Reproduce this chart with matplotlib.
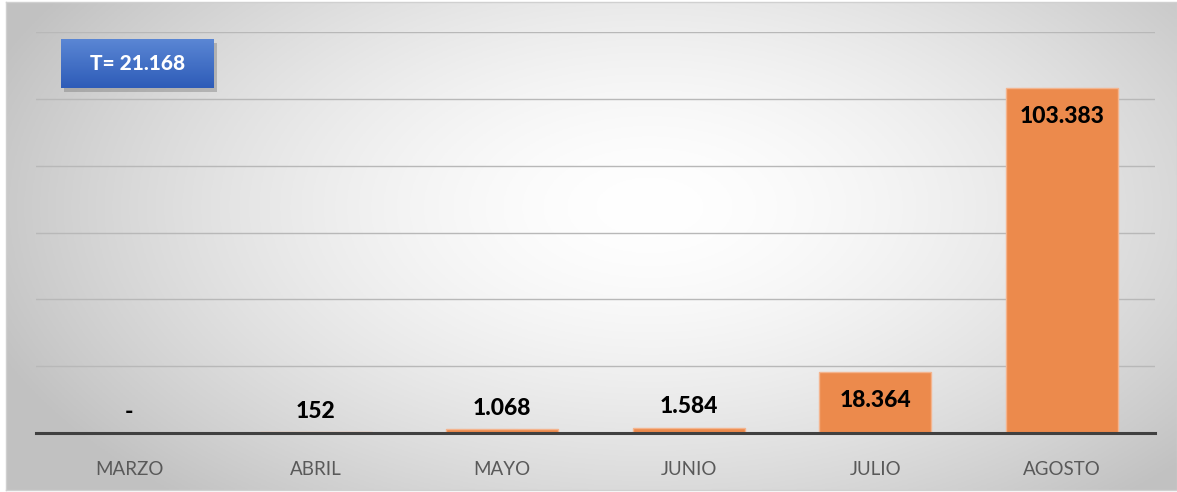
import numpy as np
import matplotlib
matplotlib.use('Agg')
import matplotlib.pyplot as plt
from matplotlib.patches import Rectangle

# --- DATA ---
meses = ['MARZO', 'ABRIL', 'MAYO', 'JUNIO', 'JULIO', 'AGOSTO']
valores = [0, 152, 1068, 1584, 18364, 103383]
total_txt = 'T= 21.168'

plt.rcParams['font.family'] = ['Lato', 'DejaVu Sans']

W, H = 1177, 492
fig = plt.figure(figsize=(W / 100, H / 100), dpi=100)
fig.patch.set_facecolor('white')

# fondo con degradado radial (blanco en el centro, gris en los bordes)
bg = fig.add_axes([6 / W, 2 / H, 1171 / W, 488 / H], zorder=0)
gx, gy = np.meshgrid(np.linspace(0, 1, 400), np.linspace(0, 1, 200))
d = np.sqrt(((gx - 0.55) / 0.6) ** 2 + ((gy - 0.42) / 0.8) ** 2)
shade = 1.0 - 0.24 * np.clip(d, 0, 1) ** 1.6
bg.imshow(np.dstack([shade] * 3), aspect='auto', extent=[0, 1, 0, 1], origin='upper')
bg.set_xlim(0, 1)
bg.set_ylim(0, 1)
bg.set_xticks([])
bg.set_yticks([])
for s in bg.spines.values():
    s.set_color('#d0d0d0')
    s.set_linewidth(1)

# grafico de barras
ax = fig.add_axes([36 / W, 1 - 433 / H, 1119 / W, 401 / H], zorder=1)
ax.patch.set_alpha(0)
x = np.arange(len(meses))
ax.bar(x, valores, width=0.6, color='#EC8A4C', edgecolor='#F4B48E', linewidth=1, zorder=3)
ax.set_xlim(-0.5, len(meses) - 0.5)
ax.set_ylim(0, 120000)
ax.set_yticks(np.arange(0, 120001, 20000))
ax.yaxis.grid(True, color='#b8b8b8', linewidth=1)
ax.set_axisbelow(True)
ax.tick_params(axis='y', left=False, labelleft=False)
ax.tick_params(axis='x', bottom=False, pad=17, labelsize=13.5, labelcolor='#595959')
ax.set_xticks(x)
ax.set_xticklabels(meses)
for s in ['top', 'right', 'left']:
    ax.spines[s].set_visible(False)
ax.spines['bottom'].set_color('#404040')
ax.spines['bottom'].set_linewidth(2.2)
ax.spines['bottom'].set_zorder(4)

for xi, v in zip(x, valores):
    txt = '-' if v == 0 else f'{v:,}'.replace(',', '.')
    off = -21 if v > 10000 else 15
    ax.annotate(txt, (xi, v), xytext=(0, off), textcoords='offset points',
                ha='center', va='center', fontsize=16.5, fontweight='black',
                color='black', zorder=5)

# recuadro con el total
bx, by, bw, bh = 61 / W, 1 - 88 / H, 153 / W, 49 / H
fig.patches.append(Rectangle((bx + 3 / W, by - 4 / H), bw, bh, transform=fig.transFigure,
                             facecolor='#555555', alpha=0.3, edgecolor='none', zorder=2))
box = fig.add_axes([bx, by, bw, bh], zorder=3)
grad = np.linspace(0, 1, 50)[:, None]
top_c = np.array([0x5A, 0x86, 0xD4]) / 255
bot_c = np.array([0x2E, 0x5C, 0xB8]) / 255
img = top_c[None, None, :] * (1 - grad[:, :, None]) + bot_c[None, None, :] * grad[:, :, None]
box.imshow(img, aspect='auto', extent=[0, 1, 0, 1], origin='upper')
box.set_axis_off()
box.text(0.5, 0.5, total_txt, ha='center', va='center', color='white',
         fontsize=15, fontweight='black', transform=box.transAxes)

fig.savefig('out.png', dpi=100)
